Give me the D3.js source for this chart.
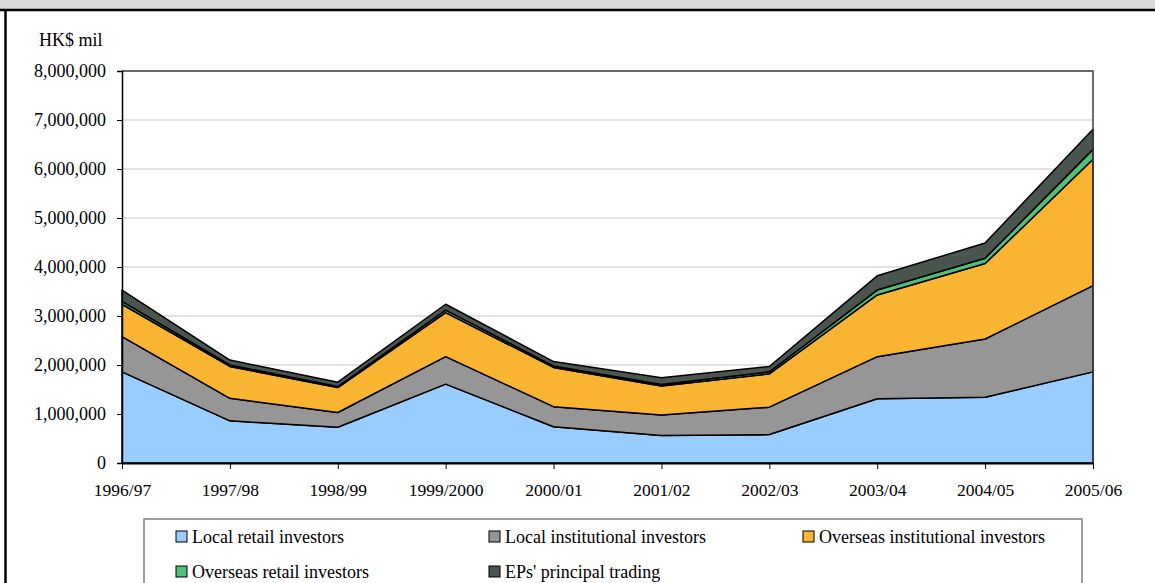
<!DOCTYPE html>
<html><head><meta charset="utf-8">
<script src="https://cdn.jsdelivr.net/npm/d3@7"></script>
<style>body{margin:0;background:#fff}svg{display:block}text{font-family:"Liberation Serif","Times New Roman",Times,serif;fill:#000}</style>
</head><body><svg id="c" width="1155" height="583"></svg>
<script>
const years = ["1996/97","1997/98","1998/99","1999/2000","2000/01","2001/02","2002/03","2003/04","2004/05","2005/06"];
const seriesNames = ["Local retail investors","Local institutional investors","Overseas institutional investors","Overseas retail investors","EPs' principal trading"];
const localRetail   = [1860000, 860000, 730000,1610000, 740000, 560000, 580000,1310000,1340000,1860000];
const localInst     = [ 720000, 460000, 300000, 560000, 410000, 420000, 560000, 860000,1190000,1760000];
const overseasInst  = [ 660000, 650000, 510000, 900000, 800000, 590000, 680000,1260000,1540000,2580000];
const overseasRetail= [  60000,  30000,  20000,  50000,  30000,  30000,  40000, 100000, 110000, 200000];
const epsTrading    = [ 230000, 100000,  90000, 120000,  90000, 140000, 110000, 290000, 310000, 410000];
const yTicks = [0,1000000,2000000,3000000,4000000,5000000,6000000,7000000,8000000];
const colors = ["#99ccff","#969696","#f9b531","#4fbf7a","#4b5550"];

const svg = d3.select("#c");
// outer frame
svg.append("rect").attr("x",0).attr("y",0).attr("width",1155).attr("height",10).attr("fill","#d9d9d9");
svg.append("line").attr("x1",0).attr("x2",1155).attr("y1",10).attr("y2",10).attr("stroke","#000").attr("stroke-width",2.5);
svg.append("line").attr("x1",5.5).attr("x2",5.5).attr("y1",10).attr("y2",583).attr("stroke","#000").attr("stroke-width",2.5);

const L=122,R=1093,T=71,B=463;
const x = d3.scalePoint().domain(years).range([L,R]);
const y = d3.scaleLinear().domain([0,8000000]).range([B,T]);

// gridlines
svg.append("g").selectAll("line").data(yTicks.slice(1)).join("line")
  .attr("x1",L).attr("x2",R).attr("y1",d=>y(d)).attr("y2",d=>y(d))
  .attr("stroke","#d9d9d9").attr("stroke-width",1.5);

const rows = years.map((yr,i)=>({year:yr, s0:localRetail[i], s1:localInst[i], s2:overseasInst[i], s3:overseasRetail[i], s4:epsTrading[i]}));
const stack = d3.stack().keys(["s0","s1","s2","s3","s4"])(rows);
const area = d3.area().x(d=>x(d.data.year)).y0(d=>y(d[0])).y1(d=>y(d[1]));
svg.append("g").selectAll("path").data(stack).join("path")
  .attr("d",area).attr("fill",(d,i)=>colors[i]).attr("stroke","#000").attr("stroke-width",1.5).attr("stroke-linejoin","round");

// plot border top/right
svg.append("path").attr("d",`M${L},${T}H${R}V${B}`).attr("fill","none").attr("stroke","#404040").attr("stroke-width",1.5);

// axes
const yAxis = d3.axisLeft(y).tickValues(yTicks).tickSize(5).tickPadding(11).tickFormat(d3.format(","));
const gy = svg.append("g").attr("transform",`translate(${L},0)`).call(yAxis);
gy.attr("font-family",null);
gy.select(".domain").attr("stroke","#000").attr("stroke-width",1.5);
gy.selectAll(".tick line").attr("stroke","#000");
gy.selectAll("text").attr("font-size",18).attr("fill","#000");

const xAxis = d3.axisBottom(x).tickSize(6).tickPadding(15).tickSizeOuter(0);
const gx = svg.append("g").attr("transform",`translate(0,${B})`).call(xAxis);
gx.attr("font-family",null);
gx.select(".domain").attr("stroke","#000").attr("stroke-width",2);
gx.selectAll(".tick line").attr("stroke","#000");
gx.selectAll("text").attr("font-size",17.5).attr("fill","#000");

svg.append("text").attr("x",39).attr("y",46).attr("font-size",18).text("HK$ mil");

// legend
svg.append("rect").attr("x",144).attr("y",519).attr("width",938).attr("height",90)
  .attr("fill","#fff").attr("stroke","#808080").attr("stroke-width",1.5);
const colX=[176,489,803], rowY=[537,572];
const lg = svg.append("g").selectAll("g").data(seriesNames).join("g")
  .attr("transform",(d,i)=>`translate(${colX[i%3]},${rowY[Math.floor(i/3)]})`);
lg.append("rect").attr("x",0).attr("y",-6).attr("width",11).attr("height",11)
  .attr("fill",(d,i)=>colors[i]).attr("stroke","#000").attr("stroke-width",1);
lg.append("text").attr("x",16).attr("y",6).attr("font-size",18).text(d=>d);
</script></body></html>
